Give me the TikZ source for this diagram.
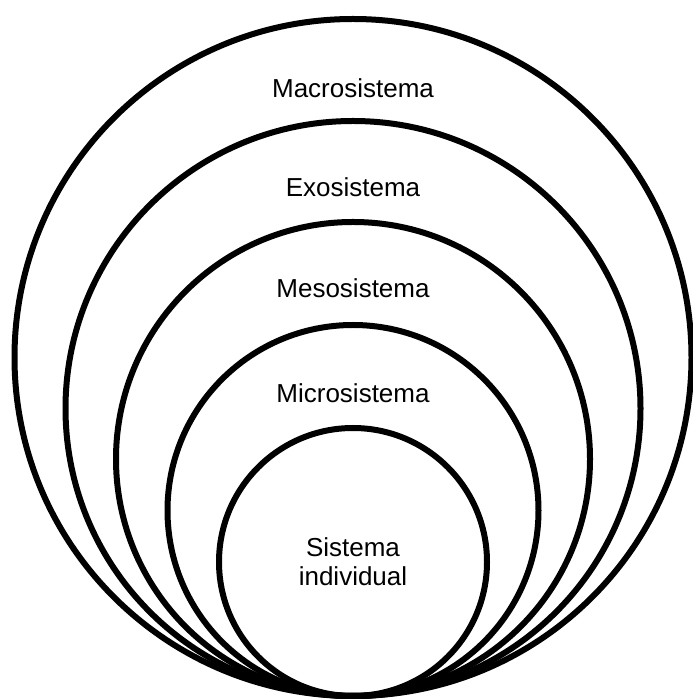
\documentclass[tikz,border=0pt]{standalone}
\usepackage{fontspec}
\setmainfont{Liberation Sans}
\usetikzlibrary{positioning}

\begin{document}
\begin{tikzpicture}[
        % Estilo para los anillos
        ring/.style={
                circle,
                draw=black,
                line width=6pt,
                inner sep=0pt,
                outer sep=0pt,
                anchor=south
            },
        % Etiquetas
        lbl/.style={
                font=\fontsize{26}{29}\selectfont,
                text=black,
                align=center
            }
    ]

    \useasboundingbox (0pt,0pt) rectangle (693pt,699pt);
    \coordinate (base) at (353pt,3pt);

    % ANILLOS (de fuera hacia dentro)
    \node[ring, minimum size=677pt] (macro) at (base) {};
    \node[ring, minimum size=575pt] (exo) at (base) {};
    \node[ring, minimum size=474pt] (meso) at (base) {};
    \node[ring, minimum size=371pt] (micro) at (base) {};
    \node[ring, minimum size=268pt, lbl] (indiv) at (base) {Sistema\\individual};

    % ETIQUETAS
    \node[lbl] (tmacro) at ([yshift=-69pt]macro.north) {Macrosistema};
    \node[lbl] (texo) at ([yshift=-66pt]exo.north) {Exosistema};
    \node[lbl] (tmeso) at ([yshift=-66pt]meso.north) {Mesosistema};
    \node[lbl] (tmicro) at ([yshift=-68pt]micro.north) {Microsistema};

\end{tikzpicture}
\end{document}
